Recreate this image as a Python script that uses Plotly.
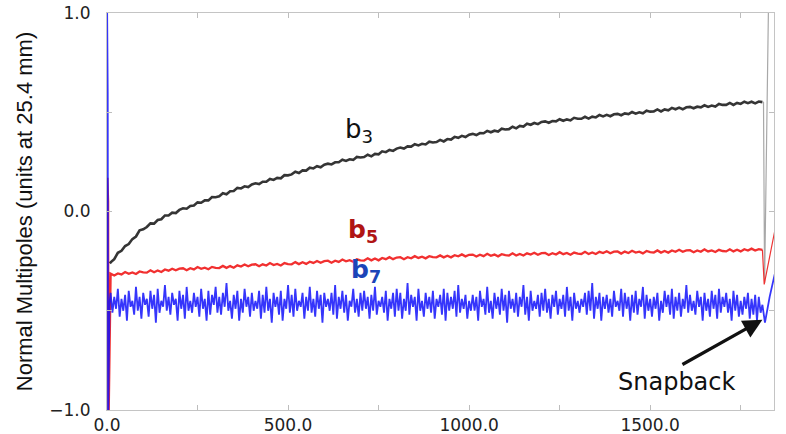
import plotly.graph_objects as go

# ---------------- data ----------------
x_b3 = list(range(10, 1811, 10))
x_b5 = list(range(10, 1811, 10))
x_b7 = list(range(10, 1811, 5))

b3_vals = [
    -0.256, -0.240, -0.208, -0.198, -0.174, -0.164, -0.139, -0.126, -0.095, -0.090,
    -0.078, -0.060, -0.061, -0.043, -0.039, -0.020, -0.020, -0.006, -0.008, 0.008,
    0.016, 0.014, 0.028, 0.030, 0.046, 0.044, 0.056, 0.056, 0.073, 0.072,
    0.077, 0.092, 0.087, 0.102, 0.103, 0.119, 0.116, 0.127, 0.123, 0.136,
    0.142, 0.138, 0.150, 0.150, 0.164, 0.159, 0.169, 0.167, 0.183, 0.182,
    0.187, 0.200, 0.194, 0.207, 0.206, 0.221, 0.217, 0.228, 0.223, 0.236,
    0.241, 0.237, 0.248, 0.248, 0.261, 0.255, 0.263, 0.260, 0.275, 0.272,
    0.274, 0.286, 0.278, 0.290, 0.288, 0.303, 0.299, 0.310, 0.305, 0.317,
    0.322, 0.317, 0.328, 0.327, 0.339, 0.333, 0.341, 0.338, 0.352, 0.348,
    0.350, 0.361, 0.353, 0.365, 0.362, 0.376, 0.371, 0.381, 0.375, 0.387,
    0.391, 0.385, 0.395, 0.394, 0.406, 0.399, 0.407, 0.403, 0.417, 0.413,
    0.415, 0.427, 0.419, 0.431, 0.428, 0.442, 0.437, 0.446, 0.440, 0.451,
    0.454, 0.447, 0.456, 0.454, 0.465, 0.457, 0.464, 0.459, 0.472, 0.467,
    0.467, 0.477, 0.468, 0.478, 0.474, 0.486, 0.479, 0.487, 0.480, 0.490,
    0.492, 0.485, 0.494, 0.491, 0.501, 0.493, 0.500, 0.495, 0.508, 0.503,
    0.504, 0.514, 0.504, 0.514, 0.510, 0.522, 0.515, 0.523, 0.515, 0.525,
    0.527, 0.520, 0.528, 0.525, 0.535, 0.527, 0.534, 0.529, 0.542, 0.537,
    0.537, 0.547, 0.537, 0.547, 0.542, 0.553, 0.546, 0.553, 0.545, 0.554,
    0.551,
]

b5_vals = [
    -0.313, -0.322, -0.312, -0.317, -0.305, -0.314, -0.307, -0.315, -0.302, -0.307,
    -0.308, -0.296, -0.306, -0.297, -0.305, -0.292, -0.298, -0.288, -0.296, -0.288,
    -0.286, -0.296, -0.286, -0.292, -0.280, -0.289, -0.283, -0.291, -0.279, -0.284,
    -0.285, -0.274, -0.284, -0.275, -0.283, -0.271, -0.277, -0.267, -0.276, -0.268,
    -0.266, -0.276, -0.266, -0.272, -0.260, -0.270, -0.264, -0.272, -0.260, -0.265,
    -0.266, -0.255, -0.265, -0.256, -0.264, -0.253, -0.259, -0.249, -0.258, -0.250,
    -0.248, -0.258, -0.248, -0.254, -0.242, -0.251, -0.245, -0.253, -0.241, -0.246,
    -0.247, -0.236, -0.246, -0.237, -0.246, -0.234, -0.240, -0.230, -0.240, -0.232,
    -0.230, -0.240, -0.230, -0.236, -0.225, -0.234, -0.228, -0.236, -0.225, -0.230,
    -0.231, -0.221, -0.231, -0.223, -0.231, -0.220, -0.226, -0.216, -0.226, -0.218,
    -0.217, -0.227, -0.218, -0.225, -0.213, -0.223, -0.217, -0.226, -0.215, -0.220,
    -0.222, -0.211, -0.222, -0.214, -0.222, -0.211, -0.217, -0.208, -0.218, -0.210,
    -0.209, -0.219, -0.210, -0.217, -0.205, -0.215, -0.209, -0.218, -0.207, -0.212,
    -0.214, -0.203, -0.214, -0.206, -0.214, -0.203, -0.209, -0.200, -0.210, -0.202,
    -0.201, -0.212, -0.202, -0.209, -0.198, -0.207, -0.202, -0.211, -0.199, -0.205,
    -0.207, -0.196, -0.207, -0.199, -0.207, -0.196, -0.203, -0.193, -0.203, -0.196,
    -0.195, -0.205, -0.196, -0.203, -0.191, -0.201, -0.196, -0.204, -0.193, -0.199,
    -0.201, -0.190, -0.201, -0.193, -0.201, -0.190, -0.197, -0.187, -0.197, -0.190,
    -0.193,
]

b7_vals = [
    -0.41, -0.51, -0.43, -0.49, -0.39, -0.53, -0.44, -0.50, -0.42, -0.55,
    -0.40, -0.48, -0.45, -0.52, -0.38, -0.50, -0.43, -0.54, -0.41, -0.47,
    -0.44, -0.53, -0.40, -0.49, -0.42, -0.56, -0.39, -0.51, -0.45, -0.48,
    -0.37, -0.50, -0.43, -0.52, -0.41, -0.47, -0.44, -0.55, -0.40, -0.49,
    -0.42, -0.54, -0.38, -0.50, -0.45, -0.51, -0.41, -0.48, -0.43, -0.53,
    -0.39, -0.49, -0.44, -0.55, -0.40, -0.52, -0.42, -0.47, -0.38, -0.51,
    -0.43, -0.52, -0.41, -0.48, -0.36, -0.50, -0.45, -0.54, -0.42, -0.49,
    -0.40, -0.55, -0.44, -0.51, -0.39, -0.48, -0.43, -0.53, -0.41, -0.50,
    -0.45, -0.49, -0.40, -0.54, -0.42, -0.51, -0.38, -0.50, -0.44, -0.56,
    -0.41, -0.48, -0.43, -0.52, -0.40, -0.55, -0.44, -0.49, -0.37, -0.51,
    -0.42, -0.53, -0.39, -0.50, -0.45, -0.48, -0.41, -0.54, -0.43, -0.50,
    -0.38, -0.51, -0.44, -0.53, -0.40, -0.49, -0.42, -0.56, -0.41, -0.48,
    -0.44, -0.50, -0.41, -0.52, -0.37, -0.54, -0.43, -0.49, -0.40, -0.51,
    -0.42, -0.55, -0.45, -0.48, -0.39, -0.51, -0.44, -0.53, -0.41, -0.50,
    -0.40, -0.49, -0.43, -0.54, -0.42, -0.50, -0.38, -0.52, -0.45, -0.48,
    -0.43, -0.51, -0.40, -0.55, -0.44, -0.49, -0.41, -0.53, -0.39, -0.50,
    -0.41, -0.54, -0.44, -0.50, -0.36, -0.52, -0.42, -0.48, -0.43, -0.55,
    -0.39, -0.50, -0.45, -0.53, -0.41, -0.49, -0.43, -0.51, -0.40, -0.54,
    -0.44, -0.48, -0.42, -0.52, -0.39, -0.55, -0.41, -0.50, -0.43, -0.49,
    -0.40, -0.53, -0.37, -0.51, -0.44, -0.49, -0.42, -0.54, -0.45, -0.50,
    -0.42, -0.50, -0.43, -0.55, -0.40, -0.48, -0.44, -0.52, -0.38, -0.51,
    -0.45, -0.54, -0.41, -0.49, -0.43, -0.52, -0.39, -0.50, -0.42, -0.56,
    -0.40, -0.49, -0.44, -0.51, -0.41, -0.53, -0.43, -0.48, -0.37, -0.52,
    -0.43, -0.55, -0.40, -0.50, -0.45, -0.49, -0.42, -0.53, -0.41, -0.50,
    -0.39, -0.51, -0.44, -0.54, -0.42, -0.48, -0.40, -0.52, -0.44, -0.49,
    -0.42, -0.53, -0.38, -0.50, -0.43, -0.55, -0.41, -0.49, -0.45, -0.51,
    -0.44, -0.48, -0.41, -0.52, -0.40, -0.50, -0.36, -0.54, -0.43, -0.49,
    -0.41, -0.55, -0.43, -0.49, -0.42, -0.51, -0.44, -0.53, -0.40, -0.48,
    -0.45, -0.50, -0.39, -0.53, -0.41, -0.49, -0.43, -0.55, -0.42, -0.51,
    -0.40, -0.52, -0.44, -0.48, -0.38, -0.54, -0.42, -0.50, -0.44, -0.53,
    -0.43, -0.49, -0.41, -0.55, -0.45, -0.51, -0.40, -0.48, -0.42, -0.52,
    -0.39, -0.54, -0.43, -0.50, -0.41, -0.53, -0.44, -0.49, -0.37, -0.51,
    -0.42, -0.50, -0.45, -0.52, -0.40, -0.48, -0.43, -0.55, -0.41, -0.50,
    -0.44, -0.53, -0.40, -0.49, -0.42, -0.54, -0.39, -0.51, -0.43, -0.48,
    -0.41, -0.51, -0.44, -0.55, -0.40, -0.50, -0.42, -0.53, -0.45, -0.52,
    -0.43, -0.49, -0.41, -0.54, -0.44, -0.52, -0.42, -0.55, -0.43, -0.51,
    -0.47,
]

# ramp-start spikes and snapback segments
b3_start_x, b3_start_y = [8], [-0.262]
b3_snap_x, b3_snap_y = [1810, 1813, 1816, 1828], [0.551, 0.55, -0.36, 1.2]
b5_start_x, b5_start_y = [1, 3, 4, 8], [0.17, 0.05, -1.1, -0.32]
b5_snap_x, b5_snap_y = [1810, 1815, 1846], [-0.193, -0.367, -0.08]
b7_start_x, b7_start_y = [0, 2, 3, 7], [1.1, 0.6, -1.1, -0.46]
b7_snap_x, b7_snap_y = [1810, 1817, 1830, 1846], [-0.47, -0.56, -0.43, -0.30]

x_tickvals = [0, 250, 500, 750, 1000, 1250, 1500, 1750]
x_ticktext = ["0.0", "", "500.0", "", "1000.0", "", "1500.0", ""]
y_tickvals = [-1.0, -0.5, 0.0, 0.5, 1.0]
y_ticktext = ["\u22121.0", "", "0.0", "", "1.0"]

# ---------------- figure ----------------
fig = go.Figure()

fig.add_trace(go.Scatter(
    x=b3_start_x + x_b3, y=b3_start_y + b3_vals, mode="lines",
    line=dict(color="rgba(25,25,25,0.88)", width=2.6), hoverinfo="skip", showlegend=False))
fig.add_trace(go.Scatter(
    x=b3_snap_x, y=b3_snap_y, mode="lines",
    line=dict(color="#a8a8a8", width=1.2), hoverinfo="skip", showlegend=False))

fig.add_trace(go.Scatter(
    x=b5_start_x + x_b5, y=b5_start_y + b5_vals, mode="lines",
    line=dict(color="rgba(240,30,30,0.92)", width=2.3), hoverinfo="skip", showlegend=False))
fig.add_trace(go.Scatter(
    x=b5_snap_x, y=b5_snap_y, mode="lines",
    line=dict(color="#ee3333", width=1.2), hoverinfo="skip", showlegend=False))

fig.add_trace(go.Scatter(
    x=b7_start_x + x_b7 + b7_snap_x, y=b7_start_y + b7_vals + b7_snap_y, mode="lines",
    line=dict(color="rgba(18,18,250,0.85)", width=1.8), hoverinfo="skip", showlegend=False))

label_font = "DejaVu Sans, Verdana, sans-serif"

fig.add_annotation(x=652, y=0.41, xref="x", yref="y", text="b<sub>3</sub>",
                   showarrow=False, xanchor="left", yanchor="middle",
                   font=dict(family=label_font, size=26, color="#111111"))
fig.add_annotation(x=660, y=-0.10, xref="x", yref="y", text="<b>b<sub>5</sub></b>",
                   showarrow=False, xanchor="left", yanchor="middle",
                   font=dict(family=label_font, size=25, color="#b01414"))
fig.add_annotation(x=668, y=-0.30, xref="x", yref="y", text="<b>b<sub>7</sub></b>",
                   showarrow=False, xanchor="left", yanchor="middle",
                   font=dict(family=label_font, size=25, color="#1c45b8"))

fig.add_annotation(x=1573, y=-0.86, xref="x", yref="y", text="Snapback",
                   showarrow=False, xanchor="center", yanchor="middle",
                   font=dict(family=label_font, size=24, color="#111111"))
fig.add_annotation(x=1810, y=-0.545, ax=1585, ay=-0.775, xref="x", yref="y",
                   axref="x", ayref="y", text="", showarrow=True,
                   arrowhead=2, arrowsize=1.2, arrowwidth=3.2, arrowcolor="#111111")

tick_font = dict(family=label_font, size=17, color="#222222")

fig.update_xaxes(
    range=[0, 1842], tickmode="array", tickvals=x_tickvals, ticktext=x_ticktext,
    ticks="inside", ticklen=5, tickcolor="#bdbdbd", tickwidth=1,
    showline=True, linecolor="#c4c4c4", linewidth=1, mirror="ticks",
    showgrid=False, zeroline=False, tickfont=tick_font, automargin=False)
fig.update_yaxes(
    range=[-1.0, 1.0], tickmode="array", tickvals=y_tickvals, ticktext=y_ticktext,
    ticks="inside", ticklen=5, tickcolor="#bdbdbd", tickwidth=1,
    showline=True, linecolor="#c4c4c4", linewidth=1, mirror="ticks",
    showgrid=False, zeroline=False, tickfont=tick_font, ticklabelstandoff=12,
    automargin=False,
    title=dict(text="Normal Multipoles (units at 25.4 mm)", standoff=10,
               font=dict(family="Liberation Sans, Arial, sans-serif",
                         size=22, color="#111111")))

fig.update_layout(
    width=786, height=434,
    margin=dict(l=107, r=12, t=13, b=24),
    paper_bgcolor="white", plot_bgcolor="white",
    showlegend=False)

fig.write_html("out.html", config={"displayModeBar": False})

# remove the browser's default page margin so the figure sits at the window origin
with open("out.html", "r", encoding="utf-8") as fh:
    page = fh.read()
page = page.replace("<head>", "<head><style>html,body{margin:0;padding:0;overflow:hidden;}</style>", 1)
with open("out.html", "w", encoding="utf-8") as fh:
    fh.write(page)
